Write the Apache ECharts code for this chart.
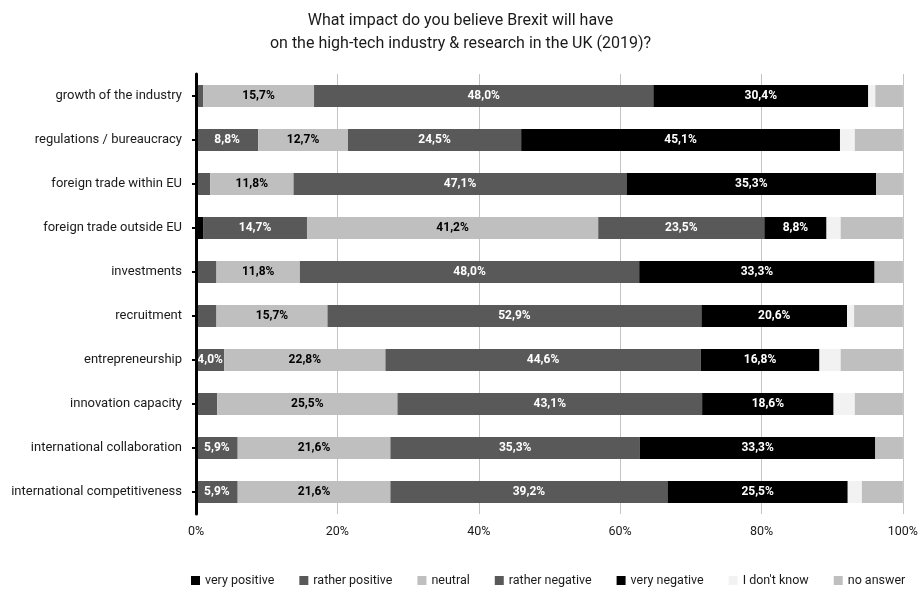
<!DOCTYPE html>
<html>
<head>
<meta charset="utf-8">
<title>Brexit impact on high-tech industry &amp; research (2019)</title>
<script src="https://cdn.jsdelivr.net/npm/echarts@6/dist/echarts.min.js"></script>
<style>
  html, body { margin: 0; padding: 0; background: #ffffff; }
  #chart { width: 921px; height: 592px; }
</style>
</head>
<body>
<div id="chart"></div>
<script>
// Survey topics, top to bottom
const categories = [
  'growth of the industry',
  'regulations / bureaucracy',
  'foreign trade within EU',
  'foreign trade outside EU',
  'investments',
  'recruitment',
  'entrepreneurship',
  'innovation capacity',
  'international collaboration',
  'international competitiveness'
];

// Share of answers in percent, one array per answer option
const veryPositive     = [0,    0,    0,    1.0,  0,    0,    0,    0,    0,    0];
const ratherPositive   = [1.0,  8.8,  2.0,  14.7, 2.9,  2.9,  4.0,  3.0,  5.9,  5.9];
const neutral          = [15.7, 12.7, 11.8, 41.2, 11.8, 15.7, 22.8, 25.5, 21.6, 21.6];
const ratherNegative   = [48.0, 24.5, 47.1, 23.5, 48.0, 52.9, 44.6, 43.1, 35.3, 39.2];
const veryNegative     = [30.4, 45.1, 35.3, 8.8,  33.3, 20.6, 16.8, 18.6, 33.3, 25.5];
const dontKnow         = [1.0,  2.1,  0,    2.0,  0,    1.0,  3.0,  3.0,  0,    2.0];
const noAnswer         = [3.9,  6.8,  3.8,  8.8,  4.0,  6.9,  8.8,  6.8,  3.9,  5.8];

const xTicks = [0, 20, 40, 60, 80, 100];

const FONT = "Roboto, 'Liberation Sans', sans-serif";

function pct(v) {
  return v.toFixed(1).replace('.', ',') + '%';
}

// One stacked segment per answer option; only the five main options carry value labels
function makeSeries(name, data, color, labelColor) {
  return {
    name: name,
    type: 'bar',
    stack: 'total',
    data: data,
    barWidth: 22,
    itemStyle: { color: color },
    label: {
      show: labelColor !== null,
      position: 'inside',
      color: labelColor || '#000',
      fontFamily: FONT,
      fontWeight: 'bold',
      fontSize: 12,
      formatter: p => (p.value >= 4 ? pct(p.value) : '')
    },
    emphasis: { disabled: true }
  };
}

const chart = echarts.init(document.getElementById('chart'), null, { renderer: 'canvas' });

chart.setOption({
  animation: false,
  backgroundColor: '#ffffff',
  title: {
    text: 'What impact do you believe Brexit will have\non the high-tech industry & research in the UK (2019)?',
    left: 'center',
    top: 4,
    textStyle: {
      fontFamily: FONT,
      fontWeight: 'normal',
      fontSize: 16,
      lineHeight: 23,
      color: '#1a1a1a'
    }
  },
  legend: {
    bottom: 0,
    left: 186,
    itemWidth: 9,
    itemHeight: 9,
    itemGap: 25,
    icon: 'rect',
    textStyle: { fontFamily: FONT, fontSize: 12.5, color: '#1a1a1a' },
    data: ['very positive', 'rather positive', 'neutral', 'rather negative',
           'very negative', "I don't know", 'no answer']
  },
  grid: {
    left: 196,
    right: 17,
    top: 74,
    bottom: 78,
    containLabel: false
  },
  xAxis: {
    type: 'value',
    min: xTicks[0],
    max: xTicks[xTicks.length - 1],
    interval: xTicks[1] - xTicks[0],
    axisLine: { show: false },
    axisTick: { show: false },
    splitLine: { show: true, lineStyle: { color: '#c4c4c4', width: 1 } },
    axisLabel: {
      formatter: '{value}%',
      fontFamily: FONT,
      fontSize: 12.5,
      color: '#1a1a1a',
      margin: 11
    }
  },
  yAxis: {
    type: 'category',
    data: categories,
    inverse: true,
    z: 5,
    axisLine: { show: true, lineStyle: { color: '#000000', width: 3 } },
    axisTick: { show: true, alignWithLabel: true, length: 4, lineStyle: { color: '#000000', width: 2 } },
    axisLabel: {
      fontFamily: FONT,
      fontSize: 13,
      color: '#1a1a1a',
      margin: 14
    },
    splitLine: { show: false }
  },
  series: [
    makeSeries('very positive', veryPositive, '#000000', '#ffffff'),
    makeSeries('rather positive', ratherPositive, '#595959', '#ffffff'),
    makeSeries('neutral', neutral, '#bfbfbf', '#000000'),
    makeSeries('rather negative', ratherNegative, '#595959', '#ffffff'),
    makeSeries('very negative', veryNegative, '#000000', '#ffffff'),
    makeSeries("I don't know", dontKnow, '#f2f2f2', null),
    makeSeries('no answer', noAnswer, '#bfbfbf', null)
  ]
});
</script>
</body>
</html>
